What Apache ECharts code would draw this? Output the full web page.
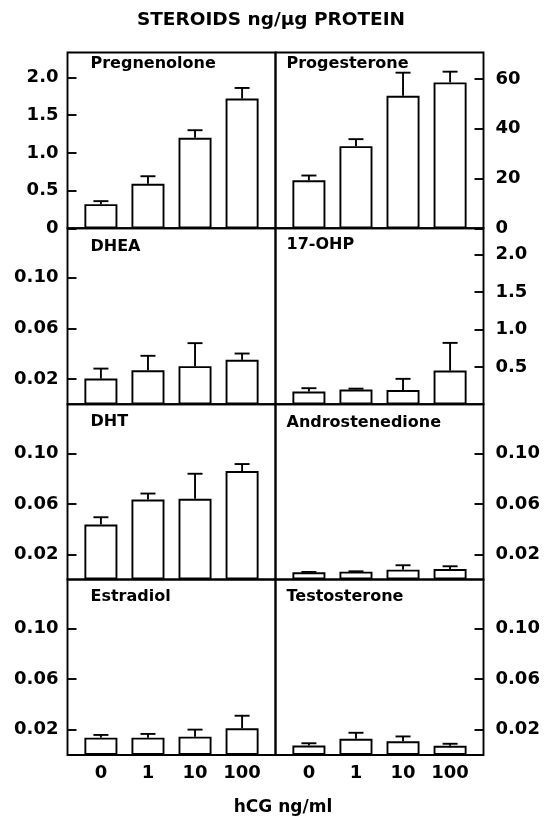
<!DOCTYPE html>
<html>
<head>
<meta charset="utf-8">
<script src="https://cdn.jsdelivr.net/npm/echarts@6/dist/echarts.min.js"></script>
<style>
html, body { margin: 0; padding: 0; background: #fff; }
#chart { width: 549px; height: 817px; }
</style>
</head>
<body>
<div id="chart"></div>
<script>
// hCG doses on the x axis
var doses = ['0', '1', '10', '100'];

// means and error (SEM) per steroid, ng/ug protein
var pregnenolone = [0.32, 0.59, 1.20, 1.72];
var pregnenoloneErr = [0.04, 0.10, 0.10, 0.14];
var progesterone = [19.3, 33.0, 53.2, 58.6];
var progesteroneErr = [1.9, 2.8, 9.3, 4.3];
var dhea = [0.0203, 0.0269, 0.0301, 0.0351];
var dheaErr = [0.0079, 0.0114, 0.0182, 0.0050];
var ohp17 = [0.17, 0.196, 0.19, 0.45];
var ohp17Err = [0.045, 0.013, 0.15, 0.37];
var dht = [0.0436, 0.0634, 0.0640, 0.0860];
var dhtErr = [0.0058, 0.0048, 0.0199, 0.0056];
var androstenedione = [0.0057, 0.0062, 0.0078, 0.0083];
var androstenedioneErr = [0.0003, 0.0003, 0.0035, 0.0022];
var estradiol = [0.0137, 0.0137, 0.0145, 0.0212];
var estradiolErr = [0.0022, 0.0030, 0.0056, 0.0099];
var testosterone = [0.0075, 0.0128, 0.0109, 0.0073];
var testosteroneErr = [0.0018, 0.0048, 0.0038, 0.0016];

// tick labels
var ticksPreg = [0, 0.5, 1.0, 1.5, 2.0];
var ticksProg = [0, 20, 40, 60];
var ticksOhp = [0.5, 1.0, 1.5, 2.0];
var ticksSmall = [0.02, 0.06, 0.10];

var FONT = 'DejaVu Sans';
var LW = 1.9;
var rowTop = [52.5, 228.3, 404.3, 579.5];
var rowHeight = [175.8, 176, 175.2, 175.5];
var colLeft = [67.5, 275.5];
var colWidth = 208;

var panels = [
    { name: 'Pregnenolone', data: pregnenolone, err: pregnenoloneErr, max: 2.33, ticks: ticksPreg, dec: 1, row: 0, col: 0, ly: 11 },
    { name: 'Progesterone', data: progesterone, err: progesteroneErr, max: 70.6, ticks: ticksProg, dec: 0, row: 0, col: 1, ly: 11 },
    { name: 'DHEA', data: dhea, err: dheaErr, max: 0.139, ticks: ticksSmall, dec: 2, row: 1, col: 0, ly: 19 },
    { name: '17-OHP', data: ohp17, err: ohp17Err, max: 2.35, ticks: ticksOhp, dec: 1, row: 1, col: 1, ly: 17 },
    { name: 'DHT', data: dht, err: dhtErr, max: 0.139, ticks: ticksSmall, dec: 2, row: 2, col: 0, ly: 18 },
    { name: 'Androstenedione', data: androstenedione, err: androstenedioneErr, max: 0.139, ticks: ticksSmall, dec: 2, row: 2, col: 1, ly: 19 },
    { name: 'Estradiol', data: estradiol, err: estradiolErr, max: 0.139, ticks: ticksSmall, dec: 2, row: 3, col: 0, ly: 17 },
    { name: 'Testosterone', data: testosterone, err: testosteroneErr, max: 0.139, ticks: ticksSmall, dec: 2, row: 3, col: 1, ly: 17 }
];

function fmtTick(v, dec) {
    if (v === 0) return '0';
    return v.toFixed(dec);
}

function errorBar(params, api) {
    var x = api.value(0), y = api.value(1), e = api.value(2);
    var p0 = api.coord([x, y]);
    var p1 = api.coord([x, y + e]);
    var st = { stroke: '#000', lineWidth: LW };
    return {
        type: 'group',
        children: [
            { type: 'line', shape: { x1: p0[0], y1: p0[1], x2: p1[0], y2: p1[1] }, style: st },
            { type: 'line', shape: { x1: p1[0] - 7.5, y1: p1[1], x2: p1[0] + 7.5, y2: p1[1] }, style: st }
        ]
    };
}

var grids = [], xAxes = [], yAxes = [], series = [], graphics = [];

panels.forEach(function (p, i) {
    var bottomRow = p.row === 3;
    grids.push({
        left: colLeft[p.col], top: rowTop[p.row], width: colWidth, height: rowHeight[p.row],
        show: true, borderColor: '#000', borderWidth: LW, backgroundColor: 'transparent'
    });
    xAxes.push({
        type: 'value', gridIndex: i, min: -0.71, max: 3.71,
        axisLine: { show: false, onZero: false }, splitLine: { show: false }, axisTick: { show: false },
        axisLabel: {
            show: bottomRow, customValues: [0, 1, 2, 3], margin: 9,
            formatter: function (v) { return doses[Math.round(v)]; },
            color: '#000', fontSize: 18, fontWeight: 'bold', fontFamily: FONT
        }
    });
    yAxes.push({
        type: 'value', gridIndex: i, min: 0, max: p.max,
        position: p.col === 0 ? 'left' : 'right',
        axisLine: { show: false, onZero: false }, splitLine: { show: false },
        axisTick: { inside: true, length: 9, customValues: p.ticks, lineStyle: { color: '#000', width: LW } },
        axisLabel: {
            customValues: p.ticks, margin: p.col === 0 ? 9 : 12,
            formatter: (function (dec) { return function (v) { return fmtTick(v, dec); }; })(p.dec),
            color: '#000', fontSize: 18, fontWeight: 'bold', fontFamily: FONT
        }
    });
    series.push({
        type: 'bar', xAxisIndex: i, yAxisIndex: i, barWidth: 33,
        data: p.data.map(function (v, k) { return [k, v]; }),
        itemStyle: { color: '#fff', borderColor: '#000', borderWidth: LW },
        silent: true, animation: false
    });
    series.push({
        type: 'custom', xAxisIndex: i, yAxisIndex: i, z: 5,
        renderItem: errorBar,
        data: p.data.map(function (v, k) { return [k, v, p.err[k]]; }),
        silent: true, animation: false
    });
    graphics.push({
        type: 'text', x: colLeft[p.col] + (p.col === 0 ? 23 : 11), y: rowTop[p.row] + p.ly,
        style: { text: p.name, fill: '#000', fontSize: 16, fontWeight: 'bold', fontFamily: FONT, align: 'left', verticalAlign: 'middle' }
    });
});

graphics.push({
    type: 'text', x: 271, y: 20,
    style: { text: 'STEROIDS ng/µg PROTEIN', fill: '#000', fontSize: 18.5, fontWeight: 'bold', fontFamily: FONT, align: 'center', verticalAlign: 'middle' }
});
graphics.push({
    type: 'text', x: 283, y: 808,
    style: { text: 'hCG ng/ml', fill: '#000', fontSize: 17, fontWeight: 'bold', fontFamily: FONT, align: 'center', verticalAlign: 'middle' }
});

var chart = echarts.init(document.getElementById('chart'));
chart.setOption({
    animation: false,
    backgroundColor: '#fff',
    grid: grids,
    xAxis: xAxes,
    yAxis: yAxes,
    series: series,
    graphic: graphics
});
</script>
</body>
</html>
